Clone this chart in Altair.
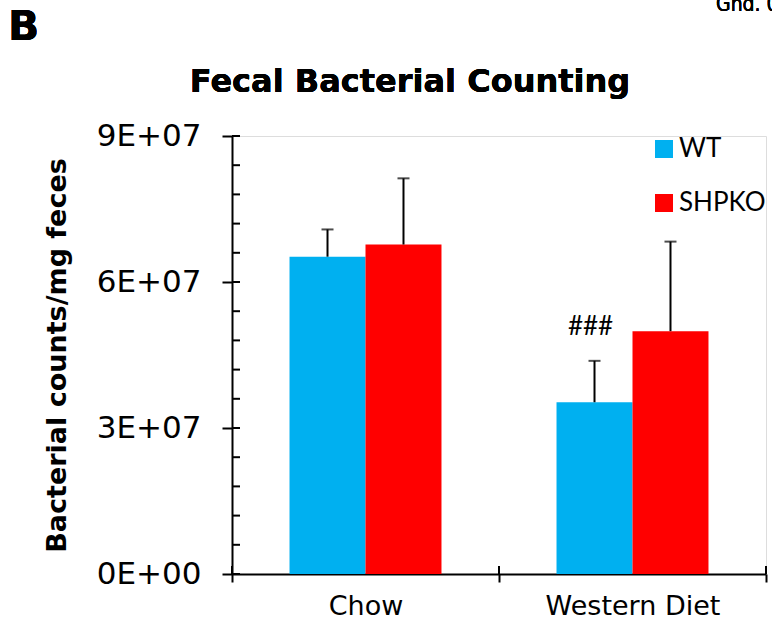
import altair as alt
import pandas as pd

# ---- data ----
diets = ["Chow", "Western Diet"]
genotypes = ["WT", "SHPKO"]
wt_mean = [6.52e7, 3.53e7]
wt_upper = [7.08e7, 4.38e7]
ko_mean = [6.77e7, 4.99e7]
ko_upper = [8.13e7, 6.83e7]
wt_sig = ["", "###"]
ko_sig = ["", ""]
colors = ["#00B0F0", "#FF0000"]
y_major = [0, 3e7, 6e7, 9e7]
y_major_labels = ["0E+00", "3E+07", "6E+07", "9E+07"]
y_minor = [0, 6e6, 1.2e7, 1.8e7, 2.4e7, 3e7, 3.6e7, 4.2e7, 4.8e7, 5.4e7,
           6e7, 6.6e7, 7.2e7, 7.8e7, 8.4e7, 9e7]

rows = []
for i, d in enumerate(diets):
    rows.append({"diet": d, "geno": "WT", "mean": wt_mean[i], "upper": wt_upper[i], "sig": wt_sig[i]})
    rows.append({"diet": d, "geno": "SHPKO", "mean": ko_mean[i], "upper": ko_upper[i], "sig": ko_sig[i]})
df = pd.DataFrame(rows)
minor_df = pd.DataFrame({"v": y_minor})
diet_df = pd.DataFrame({"diet": diets})

W, H = 534, 438
FONT = "DejaVu Sans"

yscale = alt.Scale(domain=[0, 9e7], nice=False, zero=True)
xscale = alt.Scale(domain=diets, paddingInner=0, paddingOuter=0)
oscale = alt.Scale(domain=genotypes, paddingInner=0, paddingOuter=0.757)

label_expr = "[" + ",".join("'%s'" % s for s in y_major_labels) + "][round(datum.value/3e7)]"

base = alt.Chart(df)

bars = base.mark_bar().encode(
    x=alt.X("diet:N", scale=xscale, sort=diets,
            axis=alt.Axis(title=None, labelAngle=0, tickBand="extent", labelLimit=400,
                          labelFont=FONT, labelFontSize=27, labelColor="black",
                          labelPadding=11, tickSize=8, tickWidth=2, tickColor="black",
                          domainWidth=2, domainColor="black")),
    xOffset=alt.XOffset("geno:N", scale=oscale, sort=genotypes),
    y=alt.Y("mean:Q", scale=yscale,
            axis=alt.Axis(title="Bacterial counts/mg feces", values=y_major,
                          labelExpr=label_expr, labelFont=FONT, labelFontSize=31,
                          labelColor="black", labelPadding=21, tickSize=10,
                          tickWidth=2, tickColor="black", domainWidth=2,
                          domainColor="black", grid=False,
                          titleFont=FONT, titleFontSize=27, titleFontWeight="bold",
                          titleColor="black", titlePadding=25)),
    color=alt.Color("geno:N", sort=genotypes,
                    scale=alt.Scale(domain=genotypes, range=colors),
                    legend=alt.Legend(title=None, orient="none", legendX=419, legendY=0,
                                      symbolType="square", symbolSize=324,
                                      symbolStrokeWidth=0, symbolOpacity=1,
                                      labelFont="Lato", labelFontSize=26,
                                      labelColor="black", labelOffset=2,
                                      rowPadding=28, padding=0)),
)

err = base.mark_rule(color="black", strokeWidth=2).encode(
    x=alt.X("diet:N", scale=xscale, sort=diets),
    xOffset=alt.XOffset("geno:N", scale=oscale, sort=genotypes),
    y=alt.Y("mean:Q", scale=yscale),
    y2="upper:Q",
)

caps = base.mark_tick(color="black", thickness=2, size=12, orient="horizontal").encode(
    x=alt.X("diet:N", scale=xscale, sort=diets),
    xOffset=alt.XOffset("geno:N", scale=oscale, sort=genotypes),
    y=alt.Y("upper:Q", scale=yscale),
)

sig = base.mark_text(font="Lato", fontSize=26, color="black", baseline="alphabetic",
                     dy=-26, dx=-4).encode(
    x=alt.X("diet:N", scale=xscale, sort=diets),
    xOffset=alt.XOffset("geno:N", scale=oscale, sort=genotypes),
    y=alt.Y("upper:Q", scale=yscale),
    text="sig:N",
)

# inner halves of the y-axis ticks (minor + major)
minor = alt.Chart(minor_df).mark_rule(color="black", strokeWidth=2).encode(
    y=alt.Y("v:Q", scale=yscale),
    x=alt.value(0),
    x2=alt.value(8),
)

# inner halves of the x-axis ticks at category boundaries
xin_a = alt.Chart(diet_df).mark_rule(color="black", strokeWidth=2).encode(
    x=alt.X("diet:N", scale=xscale, sort=diets, bandPosition=0),
    y=alt.value(H - 8), y2=alt.value(H),
)
xin_b = alt.Chart(diet_df).mark_rule(color="black", strokeWidth=2).encode(
    x=alt.X("diet:N", scale=xscale, sort=diets, bandPosition=1),
    y=alt.value(H - 8), y2=alt.value(H),
)

panel = alt.Chart(df).mark_text(text="B", font=FONT, fontSize=41, fontWeight="bold",
                                 align="left", baseline="alphabetic", color="black").encode(
    x=alt.value(-224), y=alt.value(-96))

title = alt.Chart(df).mark_text(text="Fecal Bacterial Counting", font=FONT, fontSize=32,
                                 fontWeight="bold", align="center", baseline="alphabetic",
                                 color="black").encode(
    x=alt.value(178), y=alt.value(-44))

corner = alt.Chart(df).mark_text(text="Gnd. 0", font="DejaVu Sans Condensed, Liberation Sans",
                                  fontSize=21, align="left", baseline="alphabetic",
                                  color="black").encode(
    x=alt.value(484), y=alt.value(-125))

chart = alt.layer(bars, err, caps, sig, minor, xin_a, xin_b, panel, title, corner).properties(
    width=W, height=H,
    autosize=alt.AutoSizeParams(type="none"),
    padding={"left": 232, "top": 136, "right": 6, "bottom": 45},
).configure_view(strokeWidth=0, stroke="transparent").configure(background="white")

chart.save("out.html", embed_options={"renderer": "svg", "actions": False})
